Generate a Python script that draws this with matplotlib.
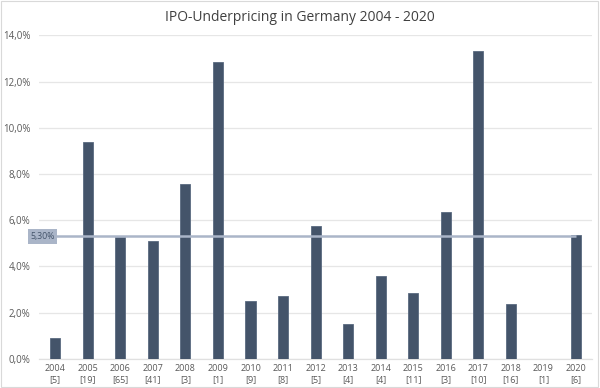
import matplotlib
matplotlib.use("Agg")
import matplotlib.pyplot as plt
from matplotlib.ticker import FuncFormatter
from matplotlib.patches import Rectangle

years = ["2004", "2005", "2006", "2007", "2008", "2009", "2010", "2011", "2012",
         "2013", "2014", "2015", "2016", "2017", "2018", "2019", "2020"]
ipo_counts = [5, 19, 65, 41, 3, 1, 9, 8, 5, 4, 4, 11, 3, 10, 16, 1, 6]
underpricing = [0.90, 9.38, 5.27, 5.08, 7.58, 12.83, 2.50, 2.70, 5.73,
                1.49, 3.59, 2.87, 6.36, 13.30, 2.39, 0.0, 5.37]
mean_value = 5.30
yticks = [0, 2, 4, 6, 8, 10, 12, 14]

plt.rcParams['font.family'] = ['Open Sans', 'DejaVu Sans']

fig = plt.figure(figsize=(6, 3.88), dpi=100)
ax = fig.add_axes([0.065, 0.075, 0.922, 0.834])

x = list(range(len(years)))
ax.bar(x, underpricing, width=0.31, color="#44546A", edgecolor="#5a6a80",
       linewidth=0.6, zorder=3)

ax.plot([-0.5, 16.0], [mean_value, mean_value], color="#AAB5C8", linewidth=1.8,
        zorder=4, solid_capstyle="butt")
ax.text(-0.39, mean_value, "5,30%", fontsize=6.3, color="#44546A", ha="center",
        va="center", zorder=5, clip_on=False,
        bbox=dict(boxstyle="square,pad=0.3", facecolor="#AAB5C8", edgecolor="none"))

ax.set_xlim(-0.5, 16.5)
ax.set_ylim(0, 14)
ax.set_yticks(yticks)
ax.yaxis.set_major_formatter(FuncFormatter(lambda v, p: f"{v:.1f}%".replace(".", ",")))
ax.set_xticks(x)
ax.set_xticklabels([f"{y}\n[{n}]" for y, n in zip(years, ipo_counts)],
                   fontsize=6.5, color="#595959", linespacing=1.3)
ax.tick_params(axis="y", labelsize=7, colors="#595959", length=0, pad=6)
ax.tick_params(axis="x", length=0, pad=4)
ax.grid(axis="y", color="#E6E6E6", linewidth=0.9, zorder=0)
for s in ["top", "right", "left"]:
    ax.spines[s].set_visible(False)
ax.spines["bottom"].set_color("#E0E0E0")
ax.spines["bottom"].set_linewidth(0.9)

fig.suptitle("IPO-Underpricing in Germany 2004 - 2020", fontsize=10,
             color="#404040", y=0.975)

fig.patches.append(Rectangle((0.002, 0.003), 0.995, 0.994, transform=fig.transFigure,
                             fill=False, edgecolor="#D9D9D9", linewidth=0.8))

fig.savefig("out.png", dpi=100)
